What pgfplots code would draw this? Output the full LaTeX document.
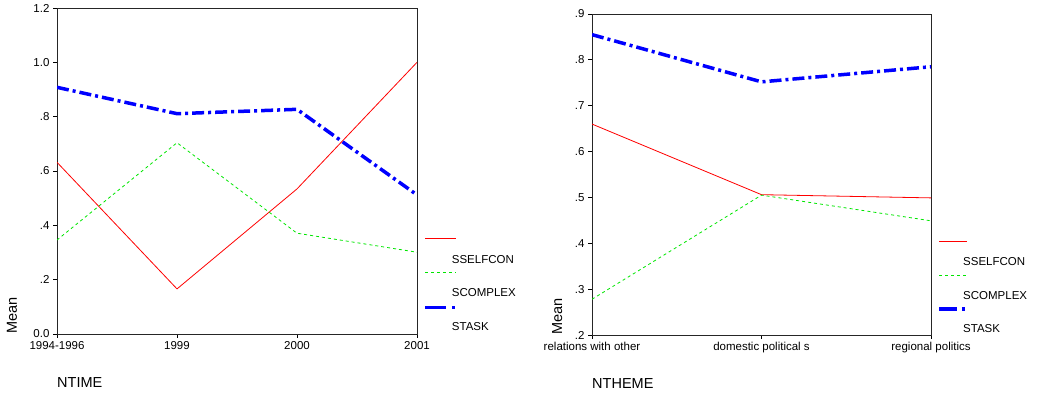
\documentclass[border=0pt]{standalone}
\usepackage{fontspec}
\setmainfont{Liberation Sans}
\usepackage{pgfplots}
\pgfplotsset{compat=1.18}
\definecolor{sred}{RGB}{255,0,0}
\definecolor{sgreen}{RGB}{0,230,0}
\definecolor{sblue}{RGB}{0,0,255}
\begin{document}
\begin{tikzpicture}
\useasboundingbox (0pt,0pt) rectangle (1038pt,395pt);
\pgfplotsset{
  spss/.style={
    scale only axis,
    anchor=south west,
    axis line style={black!85, line width=0.8pt},
    tick style={black, line width=0.8pt},
    tick align=outside,
    major tick length=4pt,
    xtick pos=bottom, ytick pos=left,
    ticklabel style={font=\fontsize{11.5}{13}\selectfont},
    /pgf/number format/assume math mode=true,
    label style={font=\fontsize{14.5}{16}\selectfont, inner sep=0pt},
    xlabel style={anchor=west},
    ylabel style={anchor=west},
  },
  redl/.style={sred, line width=0.8pt},
  greenl/.style={sgreen, line width=0.8pt, dash pattern=on 3pt off 3pt},
  bluel/.style={sblue, line width=3.5pt, dash pattern=on 12pt off 4pt on 3pt off 4pt},
}
\begin{axis}[spss, at={(57pt,61pt)}, width=360pt, height=326pt,
  xmin=0, xmax=3, ymin=0, ymax=1.2,
  xtick={0,1,2,3}, xticklabels={1994-1996,1999,2000,2001},
  ytick={0,0.2,0.4,0.6,0.8,1.0,1.2}, yticklabels={0.0,.2,.4,.6,.8,1.0,1.2},
  xlabel={NTIME}, ylabel={Mean},
  xlabel style={at={(axis description cs:0,-0.150)}},
  ylabel style={at={(axis description cs:-0.125,0)}},
]
\addplot[redl] coordinates {(0,0.632) (1,0.166) (2,0.534) (3,1.0)};
\addplot[greenl] coordinates {(0,0.346) (1,0.704) (2,0.371) (3,0.301)};
\addplot[bluel] coordinates {(0,0.908) (1,0.811) (2,0.827) (3,0.512)};
\end{axis}
\begin{axis}[spss, at={(592pt,60pt)}, width=339pt, height=321pt,
  xmin=0, xmax=2, ymin=0.2, ymax=0.9,
  xtick={0,1,2}, xticklabels={relations with other,domestic political s,regional politics},
  ytick={0.2,0.3,0.4,0.5,0.6,0.7,0.8,0.9}, yticklabels={.2,.3,.4,.5,.6,.7,.8,.9},
  xlabel={NTHEME}, ylabel={Mean},
  xlabel style={at={(axis description cs:0,-0.150)}},
  ylabel style={at={(axis description cs:-0.103,0)}},
]
\addplot[redl] coordinates {(0,0.660) (1,0.506) (2,0.499)};
\addplot[greenl] coordinates {(0,0.278) (1,0.505) (2,0.449)};
\addplot[bluel] coordinates {(0,0.855) (1,0.752) (2,0.785)};
\end{axis}
% legends
\begin{scope}[every node/.style={font=\fontsize{11.5}{13}\selectfont, anchor=west, inner sep=0pt}]
\draw[sred, line width=0.8pt] (425pt,157pt) -- (456pt,157pt);
\node at (451.7pt,135pt) {SSELFCON};
\draw[sgreen, line width=0.8pt, dash pattern=on 3pt off 3pt] (425pt,123pt) -- (456pt,123pt);
\node at (451.7pt,102.3pt) {SCOMPLEX};
\draw[sblue, line width=3.5pt] (425pt,87.3pt) -- (446pt,87.3pt) (452pt,87.3pt) -- (455pt,87.3pt);
\node at (451.7pt,68pt) {STASK};
\draw[sred, line width=0.8pt] (939pt,154pt) -- (967pt,154pt);
\node at (963pt,133.3pt) {SSELFCON};
\draw[sgreen, line width=0.8pt, dash pattern=on 3pt off 3pt] (939pt,120pt) -- (967pt,120pt);
\node at (963pt,99.3pt) {SCOMPLEX};
\draw[sblue, line width=3.5pt] (939pt,86pt) -- (957pt,86pt) (962pt,86pt) -- (965pt,86pt);
\node at (963pt,66.7pt) {STASK};
\end{scope}
\end{tikzpicture}
\end{document}
